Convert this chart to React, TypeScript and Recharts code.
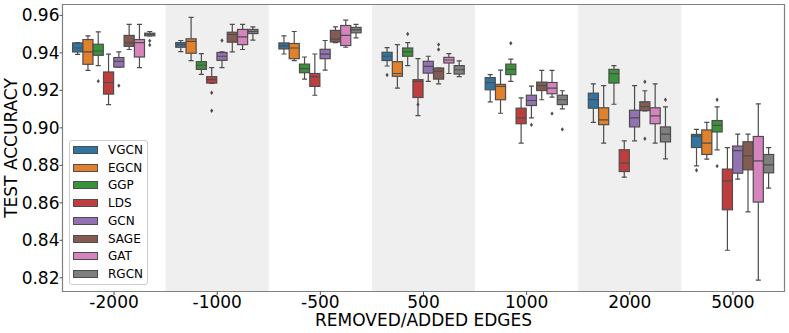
import React from 'react';
import { ComposedChart, Bar, XAxis, YAxis, ReferenceArea, Legend } from 'recharts';

const categories = ['-2000', '-1000', '-500', '500', '1000', '2000', '5000'];
const shadedCategories = ['-1000', '500', '2000'];
const seriesNames = ['VGCN', 'EGCN', 'GGP', 'LDS', 'GCN', 'SAGE', 'GAT', 'RGCN'];
const seriesColors = ['#3274a1', '#e1812c', '#3a923a', '#c03d3e', '#9372b2', '#845b53', '#d684bd', '#7f7f7f'];
const yTicks = [0.82, 0.84, 0.86, 0.88, 0.9, 0.92, 0.94, 0.96];

// each box: [lower whisker, q1, median, q3, upper whisker]
const vgcnBoxes = [
  [0.9392, 0.9405, 0.9426, 0.9453, 0.9455],
  [0.9407, 0.943, 0.9444, 0.9455, 0.9466],
  [0.9394, 0.9421, 0.9437, 0.9453, 0.9491],
  [0.933, 0.9359, 0.9382, 0.9403, 0.9428],
  [0.9139, 0.9203, 0.9241, 0.9268, 0.9284],
  [0.9029, 0.9105, 0.9151, 0.9185, 0.9235],
  [0.8797, 0.8895, 0.8956, 0.8965, 0.8992],
];
const vgcnOutliers = [[], [], [], [0.9282], [], [], [0.8774]];

const egcnBoxes = [
  [0.9307, 0.9339, 0.9405, 0.9471, 0.9491],
  [0.9359, 0.9398, 0.9461, 0.9475, 0.9589],
  [0.9359, 0.9369, 0.9426, 0.945, 0.9514],
  [0.9212, 0.9275, 0.929, 0.9353, 0.9444],
  [0.9078, 0.915, 0.9221, 0.9232, 0.9308],
  [0.8919, 0.9017, 0.9042, 0.9107, 0.9225],
  [0.8833, 0.8858, 0.8919, 0.8989, 0.9029],
];
const egcnOutliers = [[], [], [], [], [], [], []];

const ggpBoxes = [
  [0.9332, 0.9387, 0.941, 0.9446, 0.9512],
  [0.9285, 0.9312, 0.9334, 0.9353, 0.9396],
  [0.926, 0.9294, 0.9316, 0.934, 0.9378],
  [0.9332, 0.9382, 0.9405, 0.9426, 0.9455],
  [0.9248, 0.9284, 0.9312, 0.934, 0.9367],
  [0.9126, 0.9239, 0.9289, 0.9312, 0.9332],
  [0.8883, 0.8978, 0.9013, 0.9039, 0.9112],
];
const ggpOutliers = [[0.9249], [], [], [0.9501], [0.9451], [], [0.915, 0.8796]];

const ldsBoxes = [
  [0.9124, 0.918, 0.9242, 0.9298, 0.9393],
  [0.9237, 0.9239, 0.9257, 0.9273, 0.9321],
  [0.9174, 0.9221, 0.9273, 0.929, 0.9394],
  [0.9065, 0.9162, 0.9248, 0.9257, 0.9369],
  [0.8919, 0.9022, 0.9053, 0.9105, 0.916],
  [0.8737, 0.8767, 0.8812, 0.8883, 0.8931],
  [0.8347, 0.8563, 0.8717, 0.878, 0.8895],
];
const ldsOutliers = [[], [0.9187, 0.9091], [], [0.9125], [], [], []];

const gcnBoxes = [
  [0.9324, 0.9324, 0.9355, 0.9375, 0.9405],
  [0.9321, 0.936, 0.9382, 0.9402, 0.9405],
  [0.9308, 0.9369, 0.9393, 0.9419, 0.9466],
  [0.9248, 0.9292, 0.9328, 0.9355, 0.9382],
  [0.9053, 0.9119, 0.9146, 0.9174, 0.9223],
  [0.8931, 0.9005, 0.9053, 0.9094, 0.9225],
  [0.8726, 0.8758, 0.8878, 0.8903, 0.8967],
];
const gcnOutliers = [[0.9225], [0.9466], [], [], [0.9016], [], []];

const sageBoxes = [
  [0.9418, 0.9435, 0.9453, 0.9493, 0.9552],
  [0.9405, 0.9457, 0.9498, 0.951, 0.9552],
  [0.9455, 0.9458, 0.9473, 0.952, 0.9539],
  [0.9235, 0.926, 0.9303, 0.9319, 0.9319],
  [0.915, 0.9199, 0.9225, 0.9244, 0.9307],
  [0.909, 0.9092, 0.9114, 0.9139, 0.9198],
  [0.8552, 0.8776, 0.8851, 0.8926, 0.8967],
];
const sageOutliers = [[], [], [], [0.9444, 0.9418], [], [0.9246, 0.8942], []];

const gatBoxes = [
  [0.9321, 0.9378, 0.9455, 0.9471, 0.9552],
  [0.9418, 0.9444, 0.9485, 0.9525, 0.9552],
  [0.943, 0.9439, 0.9493, 0.9546, 0.9575],
  [0.929, 0.9346, 0.9362, 0.9376, 0.9396],
  [0.9164, 0.9182, 0.9212, 0.9242, 0.9307],
  [0.8919, 0.9022, 0.9064, 0.9107, 0.9235],
  [0.8188, 0.8604, 0.8824, 0.8954, 0.9128],
];
const gatOutliers = [[], [], [], [], [0.9076], [], []];

const rgcnBoxes = [
  [0.9491, 0.9491, 0.95, 0.9505, 0.9514],
  [0.9468, 0.9503, 0.9514, 0.9525, 0.9539],
  [0.948, 0.9507, 0.9523, 0.9536, 0.9552],
  [0.9273, 0.9287, 0.931, 0.9332, 0.9357],
  [0.9101, 0.9124, 0.915, 0.9174, 0.9198],
  [0.8835, 0.8925, 0.8967, 0.9005, 0.9112],
  [0.8678, 0.876, 0.8803, 0.8858, 0.8894],
];
const rgcnOutliers = [[0.9464, 0.9442], [], [], [], [0.8992], [0.915], []];

const boxesByName: Record<string, number[][]> = {
  VGCN: vgcnBoxes, EGCN: egcnBoxes, GGP: ggpBoxes, LDS: ldsBoxes,
  GCN: gcnBoxes, SAGE: sageBoxes, GAT: gatBoxes, RGCN: rgcnBoxes,
};
const outliersByName: Record<string, number[][]> = {
  VGCN: vgcnOutliers, EGCN: egcnOutliers, GGP: ggpOutliers, LDS: ldsOutliers,
  GCN: gcnOutliers, SAGE: sageOutliers, GAT: gatOutliers, RGCN: rgcnOutliers,
};

const data = categories.map((cat, i) => {
  const row: any = { cat };
  seriesNames.forEach((name) => {
    const box = boxesByName[name][i];
    const out = outliersByName[name][i];
    row[name] = {
      box,
      out,
      range: [Math.min(box[0], ...out), Math.max(box[4], ...out)],
    };
  });
  return row;
});

const Y_DOMAIN = [0.8127, 0.9658];
const LINE = '#4d4d4d';
const FONT = 'DejaVu Sans, sans-serif';

const makeBoxShape = (name: string, color: string) => (props: any) => {
  const { x, y, width, height, index } = props;
  const row = props.payload && props.payload[name] ? props.payload : data[index];
  const stats = row[name];
  const [lo, hi] = stats.range;
  // place values inside the bar's range using the scale the bar was drawn with
  const toY = (v: number) => (hi === lo ? y : y + ((hi - v) / (hi - lo)) * height);

  const cx = x + width / 2;
  const w = width * 0.98;
  const [wLo, q1, med, q3, wHi] = stats.box;
  const capW = w / 2;
  return (
    <g>
      <line x1={cx} x2={cx} y1={toY(wHi)} y2={toY(q3)} stroke={LINE} strokeWidth={1.2} />
      <line x1={cx} x2={cx} y1={toY(q1)} y2={toY(wLo)} stroke={LINE} strokeWidth={1.2} />
      <line x1={cx - capW / 2} x2={cx + capW / 2} y1={toY(wHi)} y2={toY(wHi)} stroke={LINE} strokeWidth={1.2} />
      <line x1={cx - capW / 2} x2={cx + capW / 2} y1={toY(wLo)} y2={toY(wLo)} stroke={LINE} strokeWidth={1.2} />
      <rect x={cx - w / 2} y={toY(q3)} width={w} height={Math.max(toY(q1) - toY(q3), 0.5)} fill={color} stroke={LINE} strokeWidth={1.2} />
      <line x1={cx - w / 2} x2={cx + w / 2} y1={toY(med)} y2={toY(med)} stroke={LINE} strokeWidth={1.2} />
      {stats.out.map((v: number, k: number) => {
        const py = toY(v);
        return (
          <path key={k} d={`M${cx},${py - 2.2} L${cx + 1.6},${py} L${cx},${py + 2.2} L${cx - 1.6},${py} Z`} fill={LINE} />
        );
      })}
    </g>
  );
};

const LegendBox = () => (
  <div
    style={{
      position: 'relative',
      width: 79,
      height: 145,
      boxSizing: 'border-box',
      border: '1px solid #cccccc',
      borderRadius: 3,
      background: 'rgba(255,255,255,0.85)',
      fontFamily: FONT,
      fontSize: 12,
    }}
  >
    {seriesNames.map((name, i) => (
      <div key={name} style={{ position: 'absolute', left: 0, top: i * 17.7, height: 18, width: 78 }}>
        <div
          style={{
            position: 'absolute',
            left: 3.5,
            top: 5,
            width: 25,
            height: 8,
            boxSizing: 'border-box',
            background: seriesColors[i],
            border: `1px solid ${LINE}`,
          }}
        />
        <div style={{ position: 'absolute', left: 38.5, top: 1, lineHeight: '16px', color: '#000' }}>{name}</div>
      </div>
    ))}
  </div>
);

const YLabel = (props: any) => {
  const vb = props.viewBox || { x: 0, y: 0, width: 0, height: 0 };
  const cx = 17;
  const cy = vb.y + vb.height / 2;
  return (
    <text
      x={cx}
      y={cy}
      transform={`rotate(-90, ${cx}, ${cy})`}
      textAnchor="middle"
      fontSize={17}
      fontFamily={FONT}
      fill="#000"
    >
      TEST ACCURACY
    </text>
  );
};

const App: React.FC = () => {
  return (
    <div style={{ position: 'absolute', left: 0, top: 0, width: 789, height: 333, background: '#fff' }}>
      <ComposedChart
        width={789}
        height={333}
        data={data}
        margin={{ top: 4.5, right: 4.5, left: 0, bottom: 0 }}
        barSize={10.3}
        barGap={0}
      >
        {shadedCategories.map((c) => (
          <ReferenceArea key={c} x1={c} x2={c} fill="#efefef" fillOpacity={1} stroke="none" ifOverflow="visible" />
        ))}
        <XAxis
          dataKey="cat"
          interval={0}
          axisLine={false}
          tickSize={3.5}
          tickMargin={1}
          tickLine={{ stroke: '#555' }}
          tick={{ fill: '#000', fontSize: 17, fontFamily: FONT }}
          height={41.5}
          label={{ value: 'REMOVED/ADDED EDGES', position: 'insideBottom', offset: 7, fill: '#000', fontSize: 17, fontFamily: FONT }}
        />
        <YAxis
          type="number"
          domain={Y_DOMAIN}
          allowDataOverflow
          ticks={yTicks}
          width={62.5}
          axisLine={false}
          tickSize={3}
          tickMargin={0}
          tickLine={{ stroke: '#555' }}
          tick={{ fill: '#000', fontSize: 17, fontFamily: FONT }}
          tickFormatter={(v: number) => v.toFixed(2)}
          label={{ content: YLabel }}
        />
        <ReferenceArea
          x1={categories[0]}
          x2={categories[categories.length - 1]}
          y1={Y_DOMAIN[0]}
          y2={Y_DOMAIN[1]}
          fill="none"
          stroke="#808080"
          strokeWidth={1.2}
          ifOverflow="visible"
        />
        {seriesNames.map((name, i) => (
          <Bar
            key={name}
            name={name}
            dataKey={(row: any) => row[name].range}
            fill={seriesColors[i]}
            shape={makeBoxShape(name, seriesColors[i])}
            isAnimationActive={false}
          />
        ))}
        <Legend
          layout="vertical"
          align="center"
          verticalAlign="middle"
          wrapperStyle={{ left: 68.5, top: 140, width: 79 }}
          content={() => <LegendBox />}
        />
      </ComposedChart>
    </div>
  );
};

export default App;
